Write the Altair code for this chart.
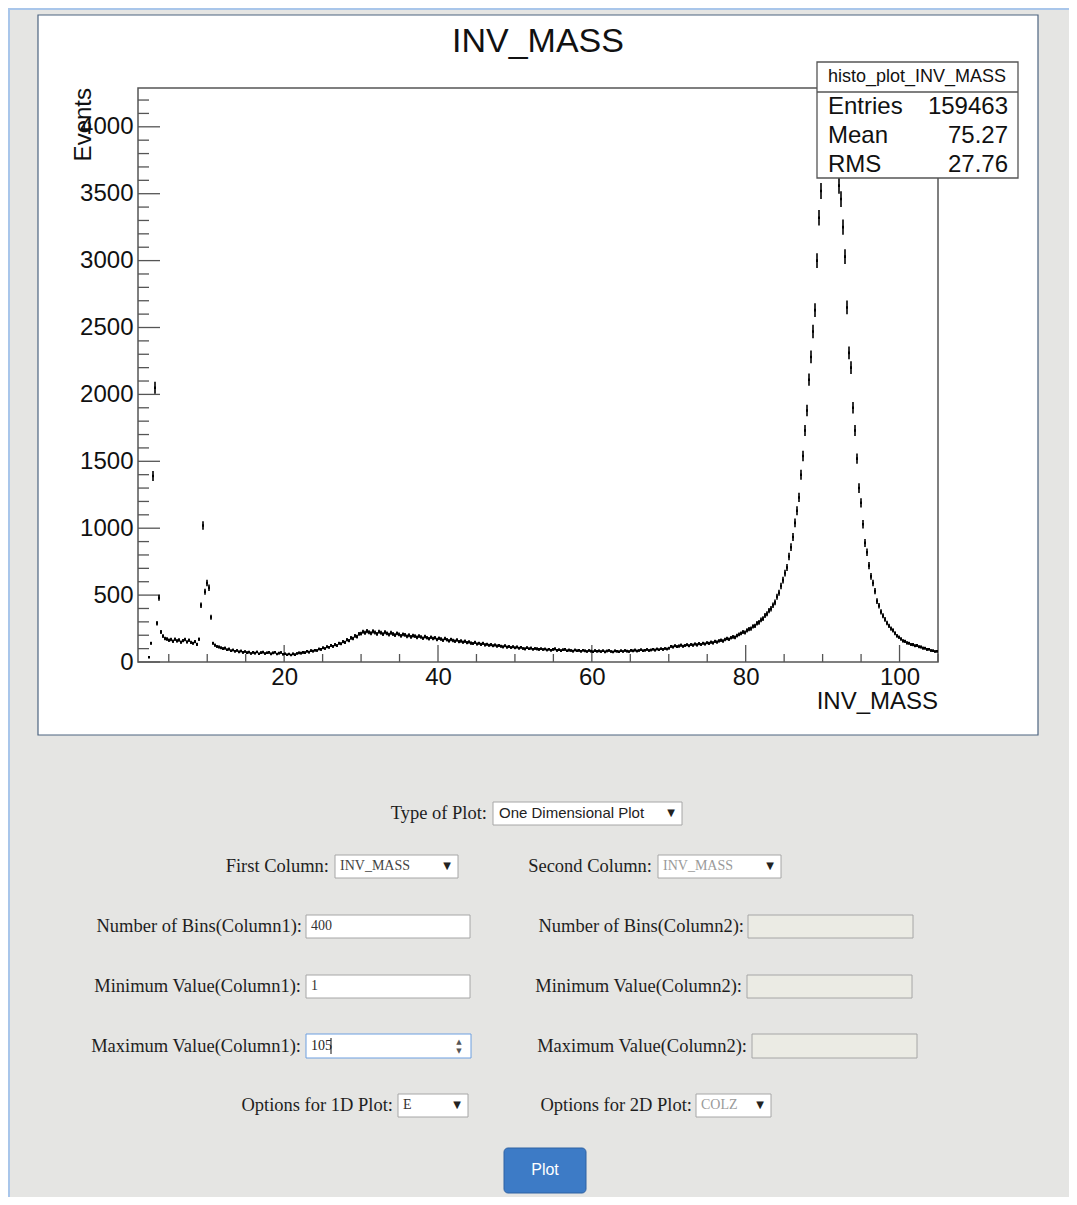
import altair as alt
import pandas as pd
import numpy as np

# ---------------- histogram data (400 bins, 1 .. 105) ----------------
N_BINS = 400
X_MIN, X_MAX = 1.0, 105.0

counts_low = [0, 0, 0, 0, 0, 35, 140, 1390, 2050, 290, 480, 225, 194, 176, 171, 162, 168, 155,
              170, 158, 164, 148, 160, 168, 150, 163, 146, 140, 152, 132, 170, 425, 1020, 525,
              590, 555, 335, 140, 126, 116, 112]
counts_dy = [106, 100, 104, 92, 96, 84, 90, 80, 86, 76,
             82, 72, 78, 70, 74, 64, 72, 66, 75, 62,
             70, 74, 63, 69, 72, 61, 68, 73, 60, 66,
             71, 58, 62, 54, 60, 52, 61, 55, 64, 68,
             66, 72, 70, 80, 74, 85, 81, 88, 86, 97,
             94, 106, 101, 114, 110, 124, 117, 130, 123, 140,
             136, 152, 147, 166, 160, 180, 176, 195, 190, 210]
counts_hump = [212, 226, 218, 231, 222, 215, 229, 220, 210, 226,
               219, 208, 223, 214, 205, 218, 209, 201, 214, 206,
               196, 207, 203, 192, 200, 188, 197, 193, 184, 194,
               187, 178, 190, 181, 174, 185, 176, 181, 168, 177,
               171, 163, 175, 166, 158, 169, 161, 155, 164, 152,
               157, 148, 155, 145, 150, 141, 138, 147, 135, 140,
               132, 139, 128, 133, 125, 130, 122, 127, 119, 124,
               118, 113, 121, 111, 116, 108, 114, 106, 112, 103,
               110, 101, 98, 107, 99, 104, 95, 101, 98, 94]
counts_flat = [99, 93, 97, 90, 95, 88, 94, 98, 87, 92,
               85, 91, 94, 84, 89, 86, 81, 90, 84, 87,
               80, 88, 83, 79, 86, 81, 77, 85, 80, 83,
               78, 84, 76, 82, 86, 79, 75, 83, 80, 77,
               84, 79, 86, 81, 78, 87, 83, 89, 82, 86,
               91, 84, 88, 93, 86, 90, 95, 89, 97, 92,
               99, 94, 101, 97, 103, 117, 112, 121, 115, 119,
               126, 118, 123, 129, 121, 131, 126, 134, 128, 137,
               131, 140, 135, 144, 139, 148, 143, 154, 149, 158,
               163, 157, 168, 175, 170, 181, 188, 184, 197, 206]
counts_z = [214, 224, 221, 236, 246, 250, 266, 270, 289, 296,
            314, 324, 348, 360, 384, 398, 424, 446, 488, 518,
            568, 612, 664, 706, 788, 858, 934, 1040, 1130, 1230,
            1400, 1540, 1730, 1880, 2110, 2280, 2470, 2630, 3000, 3320,
            3520, 3720, 3880, 3990, 4080, 4060, 4010, 3900, 3760, 3560,
            3460, 3250, 3030, 2650, 2310, 2200, 1900, 1730, 1520, 1300,
            1190, 1030, 890, 820, 720, 640, 590, 530, 455, 420,
            375, 345, 318, 292, 270, 250, 236, 215, 196, 185,
            172, 158, 154, 143, 140, 131, 130, 122, 124, 114,
            112, 104, 103, 94, 95, 86, 84, 79, 80]

counts = counts_low + counts_dy + counts_hump + counts_flat + counts_z
edges = np.linspace(X_MIN, X_MAX, N_BINS + 1)
hist = pd.DataFrame({"lo": edges[:-1], "hi": edges[1:], "n": counts})
hist["c"] = (hist["lo"] + hist["hi"]) / 2
hist["elo"] = hist["n"] - np.sqrt(hist["n"])
hist["ehi"] = hist["n"] + np.sqrt(hist["n"])
hist = hist[hist["n"] > 0]

x_labels = [20, 40, 60, 80, 100]
y_labels = [0, 500, 1000, 1500, 2000, 2500, 3000, 3500, 4000]
y_minor = [v for v in range(0, 4300, 100) if v % 500 != 0]
x_minor = [v for v in range(5, 106, 5) if v % 20 != 0]

stats_names = ["Entries", "Mean", "RMS"]
stats_values = ["159463", "75.27", "27.76"]

form_labels = ["Type of Plot:", "First Column:", "Second Column:",
               "Number of Bins(Column1):", "Number of Bins(Column2):",
               "Minimum Value(Column1):", "Minimum Value(Column2):",
               "Maximum Value(Column1):", "Maximum Value(Column2):",
               "Options for 1D Plot:", "Options for 2D Plot:"]
form_values = ["One Dimensional Plot", "INV_MASS", "INV_MASS", "400", "", "1", "", "105", "", "E", "COLZ"]

# ---------------- layout (page pixel coordinates) ----------------
label_pos = [(487, 813), (329, 866), (652, 866), (302, 926), (744, 926), (301, 986),
             (742, 986), (301, 1046), (747, 1046), (393, 1105), (692, 1105)]
box_pos = [(493, 682, 802, 825), (335, 458, 855, 878), (658, 781, 855, 878),
           (306, 470, 915, 938), (748, 913, 915, 938), (306, 470, 975, 998),
           (747, 912, 975, 998), (306, 471, 1034, 1058), (752, 917, 1034, 1058),
           (398, 468, 1094, 1117), (696, 771, 1094, 1117)]
box_fill = ["white", "white", "white", "white", "#ebebe4", "white", "#ebebe4", "white", "#ebebe4", "white", "white"]
box_stroke = ["#a6a6a6"] * 11
box_stroke[7] = "#6d9fe0"
value_color = ["#222", "#444", "#9a9a9a", "#333", "#333", "#333", "#333", "#222", "#333", "#333", "#9a9a9a"]
is_select = [True, True, True, False, False, False, False, False, False, True, True]

PX_X = alt.Scale(domain=[0, 1077], range=[-138, 939], nice=False, zero=False)
PX_Y = alt.Scale(domain=[0, 1205], range=[-88, 1117], nice=False, zero=False)
XS = alt.Scale(domain=[X_MIN, X_MAX], nice=False, zero=False)
YS = alt.Scale(domain=[0, 4290], nice=False, zero=False)

X_AXIS = alt.Axis(values=x_labels, format="d", labelFontSize=24, labelFont="Liberation Sans",
                  labelColor="#111", ticks=False, domain=False, grid=False, title=None,
                  labelPadding=3, zindex=1, labelFlush=False)
Y_AXIS = alt.Axis(values=y_labels, format="d", labelFontSize=24, labelFont="Liberation Sans",
                  labelColor="#111", ticks=False, domain=False, grid=False, title=None,
                  labelPadding=5, zindex=1, labelFlush=False)


def rects(df, **kw):
    return alt.Chart(df).mark_rect(**kw).encode(
        x=alt.X("x1:Q", scale=PX_X, axis=None), x2="x2:Q",
        y=alt.Y("y1:Q", scale=PX_Y, axis=None), y2="y2:Q",
        fill=alt.Fill("f:N", scale=None), stroke=alt.Stroke("s:N", scale=None))


def texts(df, align, font, angle=0):
    return alt.Chart(df).mark_text(align=align, baseline="middle", font=font, angle=angle).encode(
        x=alt.X("x:Q", scale=PX_X, axis=None), y=alt.Y("y:Q", scale=PX_Y, axis=None),
        text="t:N", size=alt.Size("s:Q", scale=None), color=alt.Color("c:N", scale=None))


def rules(df, color, width):
    return alt.Chart(df).mark_rule(color=color, strokeWidth=width).encode(
        x=alt.X("x1:Q", scale=PX_X, axis=None), x2="x2:Q",
        y=alt.Y("y1:Q", scale=PX_Y, axis=None), y2="y2:Q")


# ---------------- background layer ----------------
edge_lines = pd.DataFrame({"x1": [8, 9], "x2": [1077, 9], "y1": [9, 8], "y2": [9, 1205]})
panel = pd.DataFrame({"x1": [38], "x2": [1038], "y1": [15], "y2": [735], "f": ["white"], "s": ["#4d6480"]})
frame = pd.DataFrame({"x1": [138], "x2": [938], "y1": [88], "y2": [662], "f": ["white"], "s": ["#555555"]})
bg = alt.layer(
    rules(edge_lines, "#a9c6ea", 2),
    rects(panel, strokeWidth=1.2),
    rects(frame, strokeWidth=1.5, fillOpacity=0),
)

# ---------------- histogram layer ----------------
ytick_major = alt.Chart(pd.DataFrame({"v": y_labels})).mark_rule(color="#555", strokeWidth=1.3).encode(
    y=alt.Y("v:Q", scale=YS, axis=Y_AXIS), x=alt.value(0), x2=alt.value(22))
ytick_minor = alt.Chart(pd.DataFrame({"v": y_minor})).mark_rule(color="#555", strokeWidth=1.3).encode(
    y=alt.Y("v:Q", scale=YS, axis=Y_AXIS), x=alt.value(0), x2=alt.value(11))
xtick_major = alt.Chart(pd.DataFrame({"v": x_labels})).mark_rule(color="#555", strokeWidth=1.3).encode(
    x=alt.X("v:Q", scale=XS, axis=X_AXIS), y=alt.value(574), y2=alt.value(557))
xtick_minor = alt.Chart(pd.DataFrame({"v": x_minor})).mark_rule(color="#555", strokeWidth=1.3).encode(
    x=alt.X("v:Q", scale=XS, axis=X_AXIS), y=alt.value(574), y2=alt.value(566))
hbars = alt.Chart(hist).mark_rule(color="black", strokeWidth=2.6).encode(
    x=alt.X("lo:Q", scale=XS, axis=X_AXIS), x2="hi:Q", y=alt.Y("n:Q", scale=YS, axis=Y_AXIS))
vbars = alt.Chart(hist).mark_rule(color="black", strokeWidth=1.6).encode(
    x=alt.X("c:Q", scale=XS, axis=X_AXIS), y=alt.Y("elo:Q", scale=YS, axis=Y_AXIS), y2="ehi:Q")
histo = alt.layer(ytick_major, ytick_minor, xtick_major, xtick_minor, hbars, vbars)

# ---------------- foreground: stats box, titles, form ----------------
stats_box = pd.DataFrame({"x1": [817], "x2": [1018], "y1": [62], "y2": [178], "f": ["white"], "s": ["#555555"]})
stats_sep = pd.DataFrame({"x1": [817], "x2": [1018], "y1": [92], "y2": [92]})

sans_center = pd.DataFrame({
    "x": [538, 917],
    "y": [42, 77],
    "t": ["INV_MASS", "histo_plot_INV_MASS"],
    "s": [34, 18],
    "c": ["#111", "#111"],
})
sans_right = pd.DataFrame({
    "x": [1008, 1008, 1008, 938],
    "y": [107, 136, 165, 702],
    "t": stats_values + ["INV_MASS"],
    "s": [24, 24, 24, 24],
    "c": ["#111"] * 4,
})
stats_left = pd.DataFrame({
    "x": [828, 828, 828],
    "y": [107, 136, 165],
    "t": stats_names,
    "s": [24, 24, 24],
    "c": ["#111", "#111", "#111"],
})
type_value = pd.DataFrame({
    "x": [box_pos[0][0] + 6], "y": [label_pos[0][1]], "t": [form_values[0]],
    "s": [15], "c": [value_color[0]],
})
events = pd.DataFrame({"x": [84], "y": [88], "t": ["Events"], "s": [24], "c": ["#111"]})

form_boxes = pd.DataFrame({
    "x1": [b[0] for b in box_pos], "x2": [b[1] for b in box_pos],
    "y1": [b[2] for b in box_pos], "y2": [b[3] for b in box_pos],
    "f": box_fill, "s": box_stroke,
})
button = pd.DataFrame({"x1": [504], "x2": [586], "y1": [1148], "y2": [1193], "f": ["#3d7bc6"], "s": ["#2f62a3"]})
label_df = pd.DataFrame({
    "x": [p[0] for p in label_pos], "y": [p[1] for p in label_pos],
    "t": form_labels, "s": [18.5] * len(form_labels), "c": ["#1e1e1e"] * len(form_labels),
})
val_idx = [i for i in range(1, len(form_values)) if form_values[i]]
value_df = pd.DataFrame({
    "x": [box_pos[i][0] + 5 for i in val_idx], "y": [label_pos[i][1] for i in val_idx],
    "t": [form_values[i] for i in val_idx], "s": [14] * len(val_idx),
    "c": [value_color[i] for i in val_idx],
})
sel_idx = [i for i in range(len(is_select)) if is_select[i]]
arrow_df = pd.DataFrame({
    "x": [box_pos[i][1] - 11 for i in sel_idx], "y": [label_pos[i][1] for i in sel_idx],
    "t": ["▼"] * len(sel_idx), "s": [10] * len(sel_idx), "c": ["#222"] * len(sel_idx),
})
spinner_df = pd.DataFrame({
    "x": [box_pos[7][1] - 12, box_pos[7][1] - 12], "y": [label_pos[7][1] - 4, label_pos[7][1] + 5],
    "t": ["▲", "▼"], "s": [7, 7], "c": ["#555", "#555"],
})
cursor = pd.DataFrame({"x1": [331], "x2": [331], "y1": [1038], "y2": [1054]})
button_text = pd.DataFrame({"x": [545], "y": [1170], "t": ["Plot"], "s": [16], "c": ["white"]})

fg = alt.layer(
    rects(stats_box, strokeWidth=1.3),
    rules(stats_sep, "#555555", 1.3),
    texts(sans_center, "center", "Liberation Sans"),
    texts(sans_right, "right", "Liberation Sans"),
    texts(stats_left, "left", "Liberation Sans"),
    texts(events, "right", "Liberation Sans", angle=270),
    rects(form_boxes, strokeWidth=1),
    rects(button, strokeWidth=1, cornerRadius=4),
    texts(label_df, "right", "Liberation Serif"),
    texts(type_value, "left", "Liberation Sans"),
    texts(value_df, "left", "Liberation Serif"),
    texts(arrow_df, "center", "DejaVu Sans"),
    texts(spinner_df, "center", "DejaVu Sans"),
    rules(cursor, "#111", 1),
    texts(button_text, "center", "Liberation Sans"),
)

chart = alt.layer(bg, histo, fg).resolve_scale(x="independent", y="independent").properties(
    width=800, height=574,
    padding={"left": 130, "top": 80, "right": 131, "bottom": 535},
    autosize=alt.AutoSizeParams(type="none"),
).configure(background="#e5e5e3").configure_view(stroke=None)

chart.save("out.html", embed_options={"renderer": "svg", "actions": False})
